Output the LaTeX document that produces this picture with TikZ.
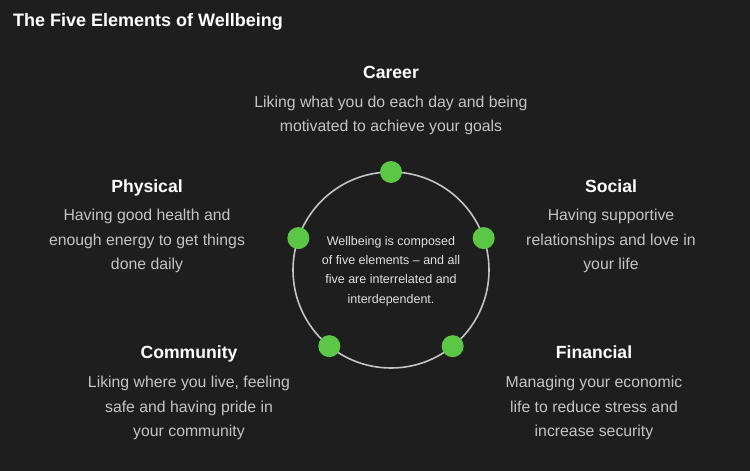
\documentclass[tikz,border=0pt]{standalone}
\usepackage{fontspec}
\setmainfont{Liberation Sans}
\usepackage{tikz}
\usetikzlibrary{calc}
\definecolor{bgdark}{HTML}{1E1E1E}
\definecolor{txtgrey}{HTML}{C4C4C4}
\definecolor{dotgreen}{HTML}{5CC746}

\begin{document}
\begin{tikzpicture}[x=1pt,y=-1pt,
    head/.style={font=\fontsize{17.6}{20}\selectfont\bfseries,text=white,inner sep=0pt,anchor=base},
    descr/.style={font=\fontsize{15.8}{24.5}\selectfont,text=txtgrey,align=center,inner sep=0pt},
    dot/.style={circle,fill=dotgreen,minimum size=22pt,inner sep=0pt}]
  \fill[bgdark] (0,0) rectangle (750,471) ;
  \useasboundingbox (0,0) rectangle (750,471) ;

  \node[head,font=\fontsize{18}{20}\selectfont\bfseries,anchor=west] (title) at (13,22) {The Five Elements of Wellbeing} ;

  % the ring and its five points
  \coordinate (o) at (391,270) ;
  \draw[txtgrey,line width=1.6pt] (o) circle (98pt) ;
  \node[dot] (career) at ($(o)+(0,-98)$) {} ;
  \node[dot] (social) at ($(o)+(-19:98)$) {} ;
  \node[dot] (financial) at ($(o)+(51:98)$) {} ;
  \node[dot] (community) at ($(o)+(129:98)$) {} ;
  \node[dot] (physical) at ($(o)+(199:98)$) {} ;

  \node[descr,font=\fontsize{12.5}{19.3}\selectfont,text=white!88!black] (core) at (391,271)
    {Wellbeing is composed\\ of five elements -- and all\\ five are interrelated and\\ interdependent.} ;

  \node[head] (careerT) at (391,78.5) {Career} ;
  \node[descr] (careerD) at (391,115.5) {Liking what you do each day and being\\ motivated to achieve your goals} ;

  \node[head] (physicalT) at (147,192.5) {Physical} ;
  \node[descr] (physicalD) at (147,241) {Having good health and\\ enough energy to get things\\ done daily} ;

  \node[head] (socialT) at (611,192.5) {Social} ;
  \node[descr] (socialD) at (611,241) {Having supportive\\ relationships and love in\\ your life} ;

  \node[head] (communityT) at (189,358.5) {Community} ;
  \node[descr] (communityD) at (189,408) {Liking where you live, feeling\\ safe and having pride in\\ your community} ;

  \node[head] (financialT) at (594,358.5) {Financial} ;
  \node[descr] (financialD) at (594,408) {Managing your economic\\ life to reduce stress and\\ increase security} ;

\end{tikzpicture}
\end{document}
